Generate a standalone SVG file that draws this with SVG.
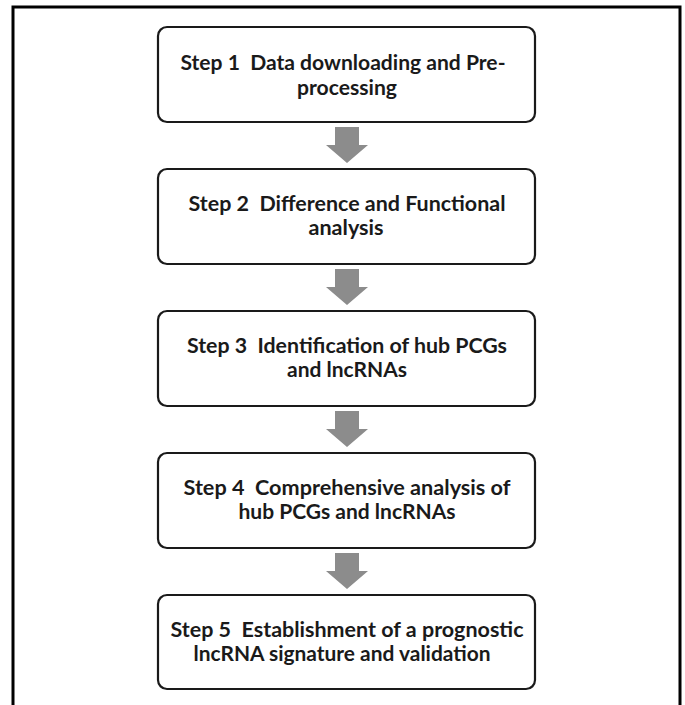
<svg xmlns="http://www.w3.org/2000/svg" width="685" height="705" viewBox="0 0 685 705">
<style>
.frame{fill:none;stroke:#000;stroke-width:3}
.box{fill:#fff;stroke:#1a1a1a;stroke-width:2.2}
.t{font-family:Lato,"Open Sans","Liberation Sans",sans-serif;font-weight:bold;font-size:21px;fill:#1a1a1a;text-anchor:middle}
.arr{fill:#8c8c8c}
</style>
<rect width="685" height="705" fill="#fff"/>
<path class="frame" d="M13,705 V7 H680 V705"/>
<defs>
<path id="arrow" d="M-12,0 H12 V18 H21 L0,36 L-21,18 H-12 Z"/>
</defs>
<g id="connectors">
<use href="#arrow" class="arr" x="347" y="127"/>
<use href="#arrow" class="arr" x="347" y="269"/>
<use href="#arrow" class="arr" x="347" y="411"/>
<use href="#arrow" class="arr" x="347" y="553"/>
</g>
<g id="step1">
<rect class="box" x="158" y="27" width="377" height="95" rx="9"/>
<text class="t" xml:space="preserve" x="343" y="70" textLength="325" lengthAdjust="spacingAndGlyphs">Step 1  Data downloading and Pre-</text>
<text class="t" x="347" y="95" textLength="100" lengthAdjust="spacingAndGlyphs">processing</text>
</g>
<g id="step2">
<rect class="box" x="158" y="169" width="377" height="95" rx="9"/>
<text class="t" xml:space="preserve" x="347" y="211" textLength="317" lengthAdjust="spacingAndGlyphs">Step 2  Difference and Functional</text>
<text class="t" x="346" y="235" textLength="75" lengthAdjust="spacingAndGlyphs">analysis</text>
</g>
<g id="step3">
<rect class="box" x="158" y="311" width="377" height="95" rx="9"/>
<text class="t" xml:space="preserve" x="347" y="353" textLength="320" lengthAdjust="spacingAndGlyphs">Step 3  Identification of hub PCGs</text>
<text class="t" x="347" y="377" textLength="120" lengthAdjust="spacingAndGlyphs">and lncRNAs</text>
</g>
<g id="step4">
<rect class="box" x="158" y="453" width="377" height="95" rx="9"/>
<text class="t" xml:space="preserve" x="347" y="495" textLength="327" lengthAdjust="spacingAndGlyphs">Step 4  Comprehensive analysis of</text>
<text class="t" x="347" y="519" textLength="217" lengthAdjust="spacingAndGlyphs">hub PCGs and lncRNAs</text>
</g>
<g id="step5">
<rect class="box" x="158" y="595" width="377" height="94" rx="9"/>
<text class="t" xml:space="preserve" x="347" y="637" textLength="353" lengthAdjust="spacingAndGlyphs">Step 5  Establishment of a prognostic</text>
<text class="t" x="342" y="661" textLength="297" lengthAdjust="spacingAndGlyphs">lncRNA signature and validation</text>
</g>
</svg>
